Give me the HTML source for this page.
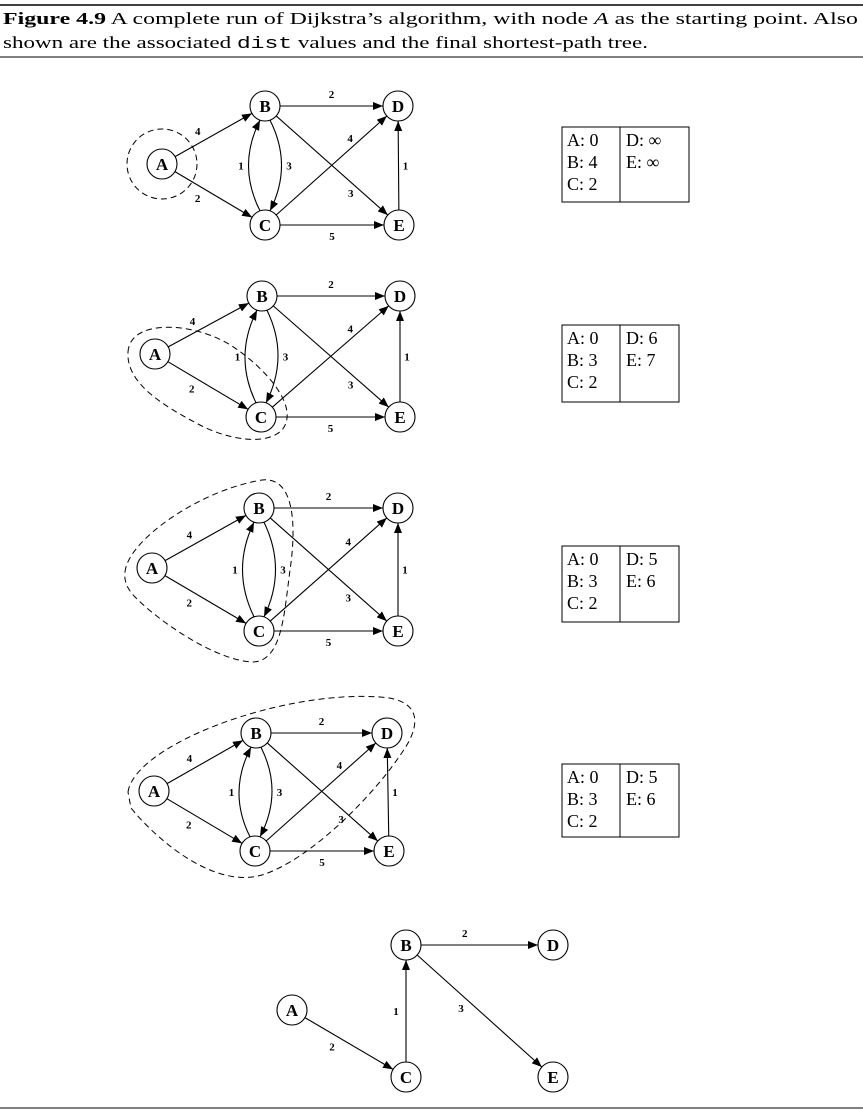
<!DOCTYPE html>
<html><head><meta charset="utf-8"><style>
html,body{margin:0;padding:0;background:#fff;}
svg{display:block;font-family:"Liberation Serif",serif;}
</style></head><body>
<svg id="fig" width="863" height="1112" viewBox="0 0 863 1112" xmlns="http://www.w3.org/2000/svg">
<defs><marker id="ah" viewBox="0 0 10 10" refX="10" refY="5" markerWidth="10" markerHeight="10" markerUnits="userSpaceOnUse" orient="auto"><path d="M0,1 L10,5 L0,9 Z" fill="#000"/></marker></defs>
<line x1="0" y1="5" x2="863" y2="5" stroke="#000" stroke-width="1.5"/>
<text x="3" y="24" font-size="17" textLength="855" lengthAdjust="spacingAndGlyphs"><tspan font-weight="bold">Figure 4.9</tspan> A complete run of Dijkstra’s algorithm, with node <tspan font-style="italic">A</tspan> as the starting point.  Also</text>
<text x="3" y="48" font-size="17" textLength="645" lengthAdjust="spacingAndGlyphs">shown are the associated <tspan font-family="Liberation Mono, monospace">dist</tspan> values and the final shortest-path tree.</text>
<line x1="0" y1="57" x2="863" y2="57" stroke="#000" stroke-width="1"/>
<line x1="0" y1="1108" x2="863" y2="1108" stroke="#000" stroke-width="1"/>
<g id="root"></g>
</svg>
<script>
const NS="http://www.w3.org/2000/svg";
const root=document.getElementById('root');
const graphs=[
 {A:[162,164],B:[265,106],D:[398,106],C:[265,225],E:[399,225]},
 {A:[155,354],B:[262,296],D:[400,296],C:[261,417],E:[400,417]},
 {A:[152,568],B:[259,508],D:[398,508],C:[259,631],E:[398,631]},
 {A:[154,791],B:[256,733],D:[387,733],C:[255,851],E:[389,851]}
];
const tree={A:[292,1010],B:[406,945],D:[553,945],C:[406,1077],E:[553,1077]};
const fullEdges=[["A","B","4"],["A","C","2"],["B","D","2"],["B","E","3"],["C","D","4"],["C","E","5"],["E","D","1"]];
const treeEdges=[["A","C","2"],["C","B","1"],["B","D","2"],["B","E","3"]];
const lblPos={"A-B":[0.4,-11],"A-C":[0.4,11],"B-D":[0.5,-12],"B-E":[0.68,8],"C-D":[0.68,-8],"C-E":[0.5,11],"E-D":[0.5,7]};
const treeLbl={"A-C":[0.4,11],"C-B":[0.5,-10],"B-D":[0.4,-12],"B-E":[0.42,10]};
const dists=[
 ["A: 0","B: 4","C: 2","D: ∞","E: ∞"],
 ["A: 0","B: 3","C: 2","D: 6","E: 7"],
 ["A: 0","B: 3","C: 2","D: 5","E: 6"],
 ["A: 0","B: 3","C: 2","D: 5","E: 6"]
];
const regions=[
 null,
 "M128,352 C130,318 195,322 232,346 C268,370 300,408 282,430 C266,446 228,440 198,424 C160,404 126,382 128,352 Z",
 "M125,572 C128,540 200,490 262,480 C296,476 296,530 290,570 C284,615 282,662 252,662 C215,660 160,622 136,598 C126,588 124,580 125,572 Z",
 "M128,792 C135,745 280,690 380,697 C425,700 418,728 405,748 C375,795 310,860 262,875 C210,890 150,832 131,808 Z"
];
const tableBoxes=[[562,127,127,75],[562,325,117,77],[562,546,117,76],[562,764,117,73]];
const R=15;
function el(tag,attrs,parent){const e=document.createElementNS(NS,tag);for(const k in attrs)e.setAttribute(k,attrs[k]);(parent||root).appendChild(e);return e;}
function edge(P,a,b,w,parent,lbls){
 const p=P[a],q=P[b];const dx=q[0]-p[0],dy=q[1]-p[1],L=Math.hypot(dx,dy),ux=dx/L,uy=dy/L;
 const ln=el('line',{x1:p[0]+ux*R,y1:p[1]+uy*R,x2:q[0]-ux*R,y2:q[1]-uy*R,stroke:'#000','stroke-width':1.1,'marker-end':'url(#ah)'},parent);
 
 
 const lp=lbls[a+'-'+b]||[0.5,-10];
 const mx=p[0]+dx*lp[0]-uy*lp[1], my=p[1]+dy*lp[0]+ux*lp[1];
 const t=el('text',{x:mx,y:my+4,'font-size':11,'font-weight':'bold','text-anchor':'middle'},parent);t.textContent=w;
 
 
}
function curved(P,a,b,side,w,parent){
 const p=P[a],q=P[b];const mx=(p[0]+q[0])/2+side*28, my=(p[1]+q[1])/2;
 const sy=p[1]<q[1]?1:-1;
 const x1=p[0]+side*5,y1=p[1]+sy*14.2,x2=q[0]+side*5,y2=q[1]-sy*14.2;
 const pa=el('path',{d:`M${x1},${y1} Q${mx},${my} ${x2},${y2}`,fill:'none',stroke:'#000','stroke-width':1.1,'marker-end':'url(#ah)'},parent);
 
 
 const lx=(p[0]+q[0])/2+side*24;
 const t=el('text',{x:lx,y:my+4,'font-size':11,'font-weight':'bold','text-anchor':'middle'},parent);t.textContent=w;
 
 
}
function nodes(P,parent){for(const k of ["A","B","C","D","E"]){const p=P[k];
 const c=el('circle',{cx:p[0],cy:p[1],r:R,fill:'#fff',stroke:'#000','stroke-width':1.1},parent);
 
 
 const t=el('text',{x:p[0],y:p[1]+6,'font-size':17,'font-weight':'bold','text-anchor':'middle'},parent);t.textContent=k;
 
 }}
graphs.forEach((P,i)=>{
 const g=el('g',{});
 
 
 let reg;
 if(i===0){reg=el('circle',{cx:P.A[0],cy:P.A[1],r:35,fill:'none',stroke:'#000','stroke-dasharray':'6,4','stroke-width':1},g);}
 else{reg=el('path',{d:regions[i],fill:'none',stroke:'#000','stroke-dasharray':'6,4','stroke-width':1},g);}
 
 
 fullEdges.forEach(e=>edge(P,e[0],e[1],e[2],g,lblPos));
 curved(P,"C","B",-1,"1",g);curved(P,"B","C",1,"3",g);
 nodes(P,g);
 const b=tableBoxes[i];const tg=el('g',{});
 
 
 el('rect',{x:b[0],y:b[1],width:b[2],height:b[3],fill:'none',stroke:'#000','stroke-width':1},tg);
 el('line',{x1:620,y1:b[1],x2:620,y2:b[1]+b[3],stroke:'#000','stroke-width':1},tg);
 const d=dists[i];
 [[d[0],567,0],[d[1],567,1],[d[2],567,2],[d[3],626,0],[d[4],626,1]].forEach(r=>{
  const t=el('text',{x:r[1],y:b[1]+19+r[2]*22,'font-size':18},tg);t.textContent=r[0];
  
  });
});
const tg=el('g',{});


treeEdges.forEach(e=>edge(tree,e[0],e[1],e[2],tg,treeLbl));
nodes(tree,tg);
</script>
</body></html>
